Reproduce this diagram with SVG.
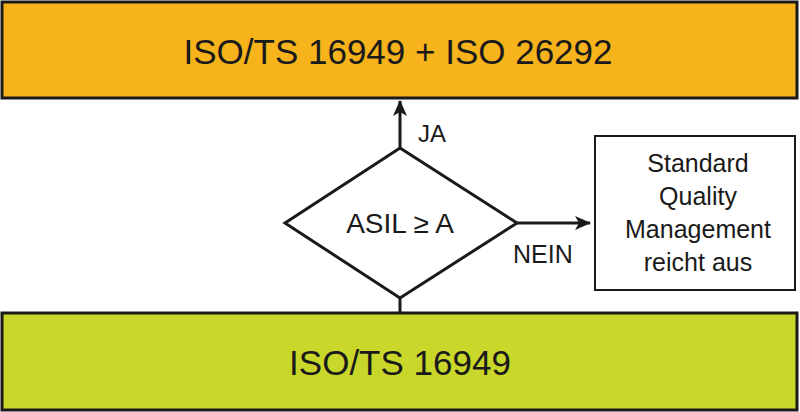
<svg xmlns="http://www.w3.org/2000/svg" width="800" height="412" viewBox="0 0 800 412">
<style>
text{font-family:"Liberation Sans",Arial,sans-serif;fill:#1a1a1a}
.s{stroke:#1a1a1a;stroke-width:3}
</style>
<defs><marker id="b" markerWidth="16" markerHeight="14" refX="15" refY="7" orient="auto" markerUnits="userSpaceOnUse"><path d="M0,0L16,7L0,14L4,7z" fill="#1a1a1a"/></marker></defs>
<rect width="800" height="412" fill="#fff"/>
<g id="top"><rect x="2" y="2" width="795" height="96" fill="#F6B31C" class="s"/><text x="398" y="64" font-size="35" text-anchor="middle">ISO/TS 16949 + ISO 26292</text></g>
<g id="bottom"><rect x="2" y="313" width="795" height="97" fill="#C9D72B" class="s"/><text x="400" y="375" font-size="35" text-anchor="middle">ISO/TS 16949</text></g>
<g id="decision"><polygon points="400,148 517,223 400,298 285,223" fill="#fff" class="s"/><text x="400" y="233" font-size="28" text-anchor="middle">ASIL ≥ A</text></g>
<g id="std"><rect x="595" y="136" width="200" height="154" fill="#fff" stroke="#1a1a1a" stroke-width="2"/>
<text font-size="25" text-anchor="middle"><tspan x="698" y="172">Standard</tspan><tspan x="698" y="205">Quality</tspan><tspan x="698" y="238">Management</tspan><tspan x="698" y="271">reicht aus</tspan></text></g>
<g id="connectors" class="s" fill="none">
<line x1="400" y1="298" x2="400" y2="313"/>
<line x1="400" y1="148" x2="400" y2="101" marker-end="url(#b)"/>
<line x1="517" y1="223" x2="590" y2="223" marker-end="url(#b)"/>
</g>
<text x="418" y="142" font-size="24">JA</text>
<text x="513" y="263" font-size="25">NEIN</text>
</svg>
